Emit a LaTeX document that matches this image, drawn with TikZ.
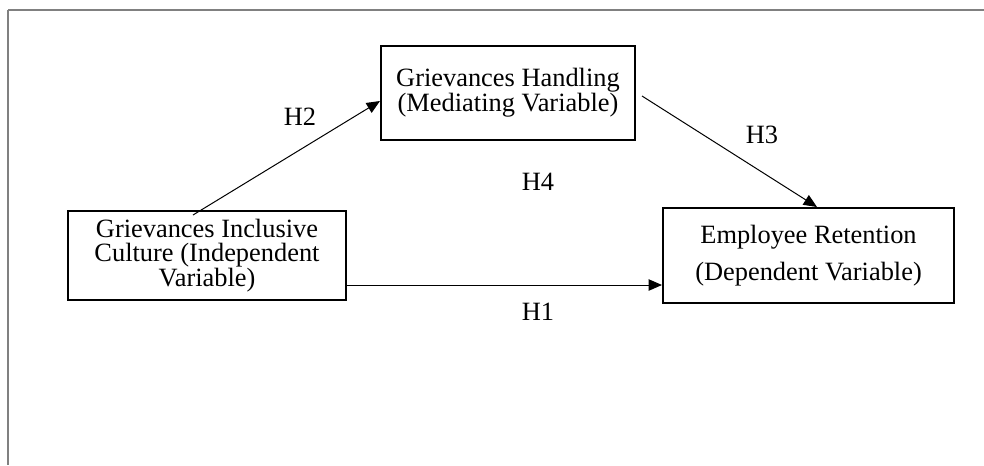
\documentclass[tikz,border=0pt]{standalone}
\usepackage{fontspec}
\setmainfont{Liberation Serif}
\usetikzlibrary{arrows.meta}
\begin{document}
\begin{tikzpicture}[x=0.75pt,y=-0.75pt,
  varbox/.style={draw=black,line width=1.5pt,align=center,inner sep=0pt,
    font=\fontsize{19.8}{18.5}\selectfont},
  hlabel/.style={font=\fontsize{19.8}{18}\selectfont,inner sep=0pt},
  link/.style={line width=0.75pt,-{Triangle[length=10pt,width=8.5pt]}},
  frame/.style={draw=gray}]
\useasboundingbox (0,0) rectangle (984,465);
\draw[frame,line width=1pt] (8,10) -- (984,10);
\draw[frame,line width=1.6pt] (8,10) -- (8,465);
\node[varbox,minimum width=278*0.75pt,minimum height=89*0.75pt] (L) at (207,255.5)
  {Grievances Inclusive\\Culture (Independent\\Variable)};
\node[varbox,minimum width=254*0.75pt,minimum height=94*0.75pt] (M) at (508,93)
  {Grievances Handling\\(Mediating Variable)};
\node[varbox,minimum width=291*0.75pt,minimum height=95*0.75pt,
  font=\fontsize{19.8}{27.7}\selectfont] (R) at (808.5,255.5)
  {Employee Retention\\(Dependent Variable)};
\draw[link] ([shift={(-14,5)}]L.north) -- ([shift={(0,8)}]M.west);
\draw[link] ([shift={(6,3)}]M.east) -- ([shift={(8.5,0)}]R.north);
\draw[link] ([shift={(0,29.5)}]L.east) -- ([shift={(0,29.5)}]R.west);
\node[hlabel] (h2) at (300,117) {H2};
\node[hlabel] (h3) at (762,135) {H3};
\node[hlabel] (h4) at (538,182) {H4};
\node[hlabel] (h1) at (538,312) {H1};
\end{tikzpicture}
\end{document}
